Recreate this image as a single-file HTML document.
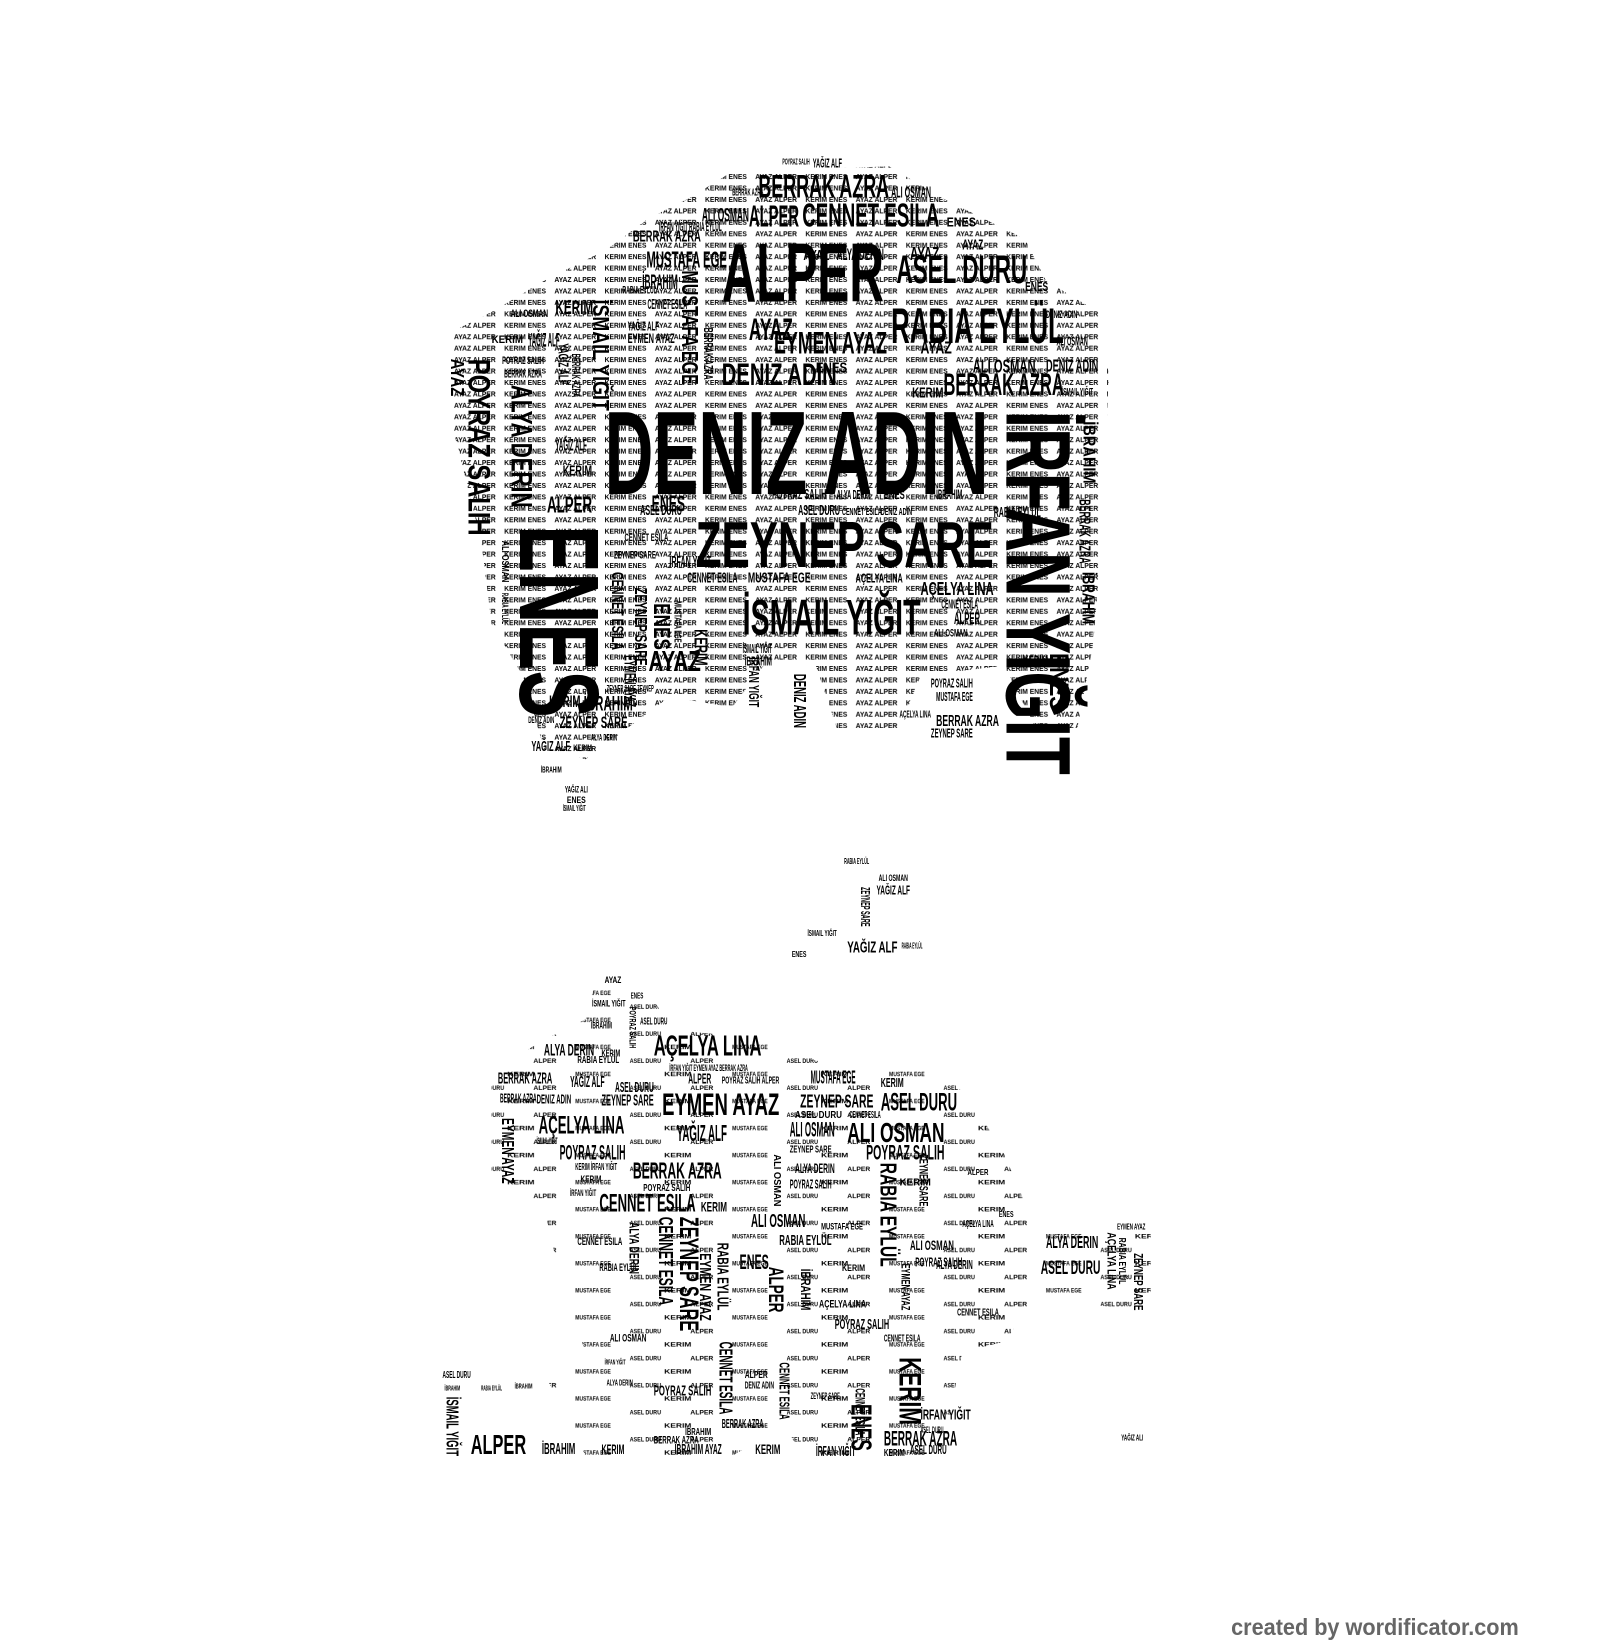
<!DOCTYPE html>
<html><head><meta charset="utf-8"><style>
html,body{margin:0;padding:0;background:#fff;}
svg{display:block}
text{font-family:"Liberation Sans Narrow","Liberation Sans",sans-serif;font-weight:bold;fill:#000;}
</style></head><body>
<svg width="1600" height="1640" viewBox="0 0 1600 1640" xmlns="http://www.w3.org/2000/svg">
<defs>
<pattern id="pd" width="96" height="11" patternUnits="userSpaceOnUse">
<text x="2" y="7" font-size="7" textLength="40" lengthAdjust="spacingAndGlyphs">KERIM ENES</text>
<text x="50" y="7" font-size="7" textLength="40" lengthAdjust="spacingAndGlyphs">AYAZ ALPER</text>
</pattern>
<pattern id="ps" width="150" height="26" patternUnits="userSpaceOnUse">
<text x="2" y="8" font-size="6" textLength="30" lengthAdjust="spacingAndGlyphs">ASEL DURU</text>
<text x="60" y="8" font-size="6" textLength="22" lengthAdjust="spacingAndGlyphs">ALPER</text>
<text x="35" y="21" font-size="6" textLength="26" lengthAdjust="spacingAndGlyphs">KERIM</text>
<text x="100" y="21" font-size="6" textLength="34" lengthAdjust="spacingAndGlyphs">MUSTAFA EGE</text>
</pattern>
</defs>
<g transform="scale(1.046,1.04)">
<polygon fill="url(#pd)" points="700,165 850,160 900,190 980,230 1000,270 1050,300 1060,360 1055,480 1050,560 1045,620 1030,700 990,700 960,640 880,650 860,700 800,700 780,640 730,640 700,680 640,670 600,700 560,730 520,720 500,650 470,600 460,520 430,400 430,320 470,300 520,270 580,240 620,210 660,190"/>
<polygon fill="url(#ps)" points="570,940 620,950 640,990 740,1000 780,1020 900,1030 930,1060 960,1110 990,1180 1100,1180 1100,1260 990,1250 960,1290 920,1300 900,1400 770,1405 750,1370 700,1400 560,1400 520,1320 560,1300 540,1250 520,1160 470,1140 470,1030 520,1000 560,980"/>
<g>
<text x="578" y="475" font-size="114" textLength="367" lengthAdjust="spacingAndGlyphs">DENIZ ADIN</text>
<text x="665" y="545" font-size="62" textLength="285" lengthAdjust="spacingAndGlyphs">ZEYNEP SARE</text>
<text x="690" y="290" font-size="80" textLength="155" lengthAdjust="spacingAndGlyphs">ALPER</text>
<text transform="translate(497,505) rotate(90)" font-size="108" textLength="185" lengthAdjust="spacingAndGlyphs">ENES</text>
<text transform="translate(962,395) rotate(90)" font-size="88" textLength="350" lengthAdjust="spacingAndGlyphs">İRFAN YIĞIT</text>
<text x="710" y="610" font-size="48" textLength="170" lengthAdjust="spacingAndGlyphs">İSMAIL YIĞIT</text>
<text x="852" y="330" font-size="48" textLength="165" lengthAdjust="spacingAndGlyphs">RABIA EYLÜL</text>
<text x="725" y="190" font-size="31" textLength="125" lengthAdjust="spacingAndGlyphs">BERRAK AZRA</text>
<text x="767" y="218" font-size="32" textLength="131" lengthAdjust="spacingAndGlyphs">CENNET ESILA</text>
<text x="716" y="218" font-size="29" textLength="48" lengthAdjust="spacingAndGlyphs">ALPER</text>
<text x="671" y="213" font-size="19" textLength="45" lengthAdjust="spacingAndGlyphs">ALI OSMAN</text>
<text x="852" y="190" font-size="15" textLength="38" lengthAdjust="spacingAndGlyphs">ALI OSMAN</text>
<text x="857" y="272" font-size="38" textLength="125" lengthAdjust="spacingAndGlyphs">ASEL DURU</text>
<text x="740" y="340" font-size="30" textLength="108" lengthAdjust="spacingAndGlyphs">EYMEN AYAZ</text>
<text x="716" y="327" font-size="30" textLength="42" lengthAdjust="spacingAndGlyphs">AYAZ</text>
<text x="690" y="370" font-size="30" textLength="110" lengthAdjust="spacingAndGlyphs">DENIZ ADIN</text>
<text x="902" y="380" font-size="30" textLength="115" lengthAdjust="spacingAndGlyphs">BERRAK AZRA</text>
<text x="930" y="358" font-size="18" textLength="60" lengthAdjust="spacingAndGlyphs">ALI OSMAN</text>
<text x="1000" y="357" font-size="17" textLength="50" lengthAdjust="spacingAndGlyphs">DENIZ ADIN</text>
<text x="880" y="340" font-size="17" textLength="30" lengthAdjust="spacingAndGlyphs">AYAZ</text>
<text x="872" y="382" font-size="14" textLength="30" lengthAdjust="spacingAndGlyphs">KERIM</text>
<text x="780" y="358" font-size="14" textLength="30" lengthAdjust="spacingAndGlyphs">ENES</text>
<text x="800" y="250" font-size="16" textLength="45" lengthAdjust="spacingAndGlyphs">ALYA DERIN</text>
<text x="870" y="250" font-size="18" textLength="28" lengthAdjust="spacingAndGlyphs">AYAZ</text>
<text x="768" y="250" font-size="14" textLength="25" lengthAdjust="spacingAndGlyphs">AYAZ</text>
<text transform="translate(652,260) rotate(90)" font-size="22" textLength="110" lengthAdjust="spacingAndGlyphs">MUSTAFA EGE</text>
<text transform="translate(567,288) rotate(90)" font-size="22" textLength="107" lengthAdjust="spacingAndGlyphs">İSMAIL YIĞIT</text>
<text transform="translate(448,345) rotate(90)" font-size="30" textLength="170" lengthAdjust="spacingAndGlyphs">POYRAZ SALIH</text>
<text transform="translate(489,370) rotate(90)" font-size="28" textLength="118" lengthAdjust="spacingAndGlyphs">ALYA DERIN</text>
<text transform="translate(431,345) rotate(90)" font-size="18" textLength="36" lengthAdjust="spacingAndGlyphs">AYAZ</text>
<text transform="translate(1036,405) rotate(90)" font-size="17" textLength="60" lengthAdjust="spacingAndGlyphs">İBRAHIM</text>
<text transform="translate(1032,480) rotate(90)" font-size="15" textLength="62" lengthAdjust="spacingAndGlyphs">BERRAK AZRA</text>
<text transform="translate(1035,550) rotate(90)" font-size="17" textLength="50" lengthAdjust="spacingAndGlyphs">İBRAHIM</text>
<text transform="translate(1004,628) rotate(90)" font-size="26" textLength="55" lengthAdjust="spacingAndGlyphs">ENES</text>
<text x="978" y="640" font-size="14" textLength="24" lengthAdjust="spacingAndGlyphs">KERIM</text>
<text x="605" y="232" font-size="15" textLength="65" lengthAdjust="spacingAndGlyphs">BERRAK AZRA</text>
<text x="618" y="257" font-size="22" textLength="77" lengthAdjust="spacingAndGlyphs">MUSTAFA EGE</text>
<text x="614" y="278" font-size="20" textLength="34" lengthAdjust="spacingAndGlyphs">İBRAHIM</text>
<text x="531" y="302" font-size="19" textLength="36" lengthAdjust="spacingAndGlyphs">KERIM</text>
<text x="619" y="297" font-size="14" textLength="38" lengthAdjust="spacingAndGlyphs">CENNET ESILA</text>
<text x="505" y="333" font-size="19" textLength="30" lengthAdjust="spacingAndGlyphs">YAĞIZ ALF</text>
<text x="488" y="305" font-size="11" textLength="36" lengthAdjust="spacingAndGlyphs">ALI OSMAN</text>
<text x="600" y="330" font-size="13" textLength="45" lengthAdjust="spacingAndGlyphs">EYMEN AYAZ</text>
<text x="600" y="318" font-size="12" textLength="30" lengthAdjust="spacingAndGlyphs">YAĞIZ ALF</text>
<text transform="translate(534,330) rotate(90)" font-size="14" textLength="40" lengthAdjust="spacingAndGlyphs">YAĞIZ ALF</text>
<text transform="translate(547,340) rotate(90)" font-size="11" textLength="42" lengthAdjust="spacingAndGlyphs">BERRAK AZRA</text>
<text transform="translate(673,315) rotate(90)" font-size="12" textLength="50" lengthAdjust="spacingAndGlyphs">BERRAK AZRA</text>
<text x="523" y="493" font-size="22" textLength="43" lengthAdjust="spacingAndGlyphs">ALPER</text>
<text x="531" y="433" font-size="16" textLength="30" lengthAdjust="spacingAndGlyphs">YAĞIZ ALF</text>
<text x="538" y="457" font-size="14" textLength="28" lengthAdjust="spacingAndGlyphs">KERIM</text>
<text x="623" y="492" font-size="22" textLength="32" lengthAdjust="spacingAndGlyphs">ENES</text>
<text x="738" y="480" font-size="14" textLength="52" lengthAdjust="spacingAndGlyphs">POYRAZ SALIH</text>
<text x="800" y="480" font-size="12" textLength="32" lengthAdjust="spacingAndGlyphs">ALYA DERIN</text>
<text x="845" y="480" font-size="12" textLength="20" lengthAdjust="spacingAndGlyphs">ENES</text>
<text x="895" y="480" font-size="13" textLength="25" lengthAdjust="spacingAndGlyphs">İBRAHIM</text>
<text x="612" y="495" font-size="14" textLength="40" lengthAdjust="spacingAndGlyphs">ASEL DURU</text>
<text x="763" y="495" font-size="14" textLength="40" lengthAdjust="spacingAndGlyphs">ASEL DURU</text>
<text x="950" y="497" font-size="14" textLength="45" lengthAdjust="spacingAndGlyphs">RABIA EYLÜL</text>
<text x="805" y="495" font-size="10" textLength="38" lengthAdjust="spacingAndGlyphs">CENNET ESILA</text>
<text x="842" y="495" font-size="10" textLength="30" lengthAdjust="spacingAndGlyphs">DENIZ ADIN</text>
<text x="657" y="560" font-size="14" textLength="48" lengthAdjust="spacingAndGlyphs">CENNET ESILA</text>
<text x="715" y="560" font-size="14" textLength="60" lengthAdjust="spacingAndGlyphs">MUSTAFA EGE</text>
<text x="818" y="560" font-size="12" textLength="45" lengthAdjust="spacingAndGlyphs">AÇELYA LINA</text>
<text x="880" y="572" font-size="18" textLength="70" lengthAdjust="spacingAndGlyphs">AÇELYA LINA</text>
<text x="640" y="545" font-size="15" textLength="40" lengthAdjust="spacingAndGlyphs">İRFAN YIĞIT</text>
<text x="597" y="520" font-size="11" textLength="42" lengthAdjust="spacingAndGlyphs">CENNET ESILA</text>
<text x="587" y="537" font-size="11" textLength="40" lengthAdjust="spacingAndGlyphs">ZEYNEP SARE</text>
<text x="912" y="600" font-size="16" textLength="25" lengthAdjust="spacingAndGlyphs">ALPER</text>
<text x="893" y="612" font-size="11" textLength="32" lengthAdjust="spacingAndGlyphs">ALI OSMAN</text>
<text x="900" y="585" font-size="12" textLength="35" lengthAdjust="spacingAndGlyphs">CENNET ESILA</text>
<text x="620" y="645" font-size="28" textLength="50" lengthAdjust="spacingAndGlyphs">AYAZ</text>
<text transform="translate(625,580) rotate(90)" font-size="22" textLength="45" lengthAdjust="spacingAndGlyphs">ENES</text>
<text transform="translate(607,565) rotate(90)" font-size="17" textLength="75" lengthAdjust="spacingAndGlyphs">ZEYNEP SARE</text>
<text transform="translate(585,550) rotate(90)" font-size="16" textLength="75" lengthAdjust="spacingAndGlyphs">CENNET ESILA</text>
<text transform="translate(597,630) rotate(90)" font-size="16" textLength="50" lengthAdjust="spacingAndGlyphs">EYMEN AYAZ</text>
<text transform="translate(664,605) rotate(90)" font-size="18" textLength="35" lengthAdjust="spacingAndGlyphs">KERIM</text>
<text transform="translate(645,578) rotate(90)" font-size="10" textLength="40" lengthAdjust="spacingAndGlyphs">MUSTAFA EGE</text>
<text transform="translate(716,632) rotate(90)" font-size="14" textLength="48" lengthAdjust="spacingAndGlyphs">İRFAN YIĞIT</text>
<text transform="translate(759,648) rotate(90)" font-size="17" textLength="52" lengthAdjust="spacingAndGlyphs">DENIZ ADIN</text>
<text x="710" y="628" font-size="12" textLength="28" lengthAdjust="spacingAndGlyphs">İSMAIL YIĞIT</text>
<text x="712" y="640" font-size="12" textLength="26" lengthAdjust="spacingAndGlyphs">İBRAHIM</text>
<text x="558" y="683" font-size="20" textLength="47" lengthAdjust="spacingAndGlyphs">İBRAHIM</text>
<text x="525" y="680" font-size="16" textLength="30" lengthAdjust="spacingAndGlyphs">KERIM</text>
<text x="535" y="700" font-size="16" textLength="65" lengthAdjust="spacingAndGlyphs">ZEYNEP SARE</text>
<text x="505" y="695" font-size="9" textLength="25" lengthAdjust="spacingAndGlyphs">DENIZ ADIN</text>
<text x="508" y="722" font-size="14" textLength="37" lengthAdjust="spacingAndGlyphs">YAĞIZ ALF</text>
<text x="548" y="722" font-size="9" textLength="18" lengthAdjust="spacingAndGlyphs">KERIM</text>
<text x="565" y="712" font-size="9" textLength="25" lengthAdjust="spacingAndGlyphs">ALYA DERIN</text>
<text x="580" y="665" font-size="9" textLength="45" lengthAdjust="spacingAndGlyphs">ZEYNEP SARE ZEYNEP</text>
<text x="890" y="661" font-size="12" textLength="40" lengthAdjust="spacingAndGlyphs">POYRAZ SALIH</text>
<text x="895" y="674" font-size="12" textLength="35" lengthAdjust="spacingAndGlyphs">MUSTAFA EGE</text>
<text x="895" y="698" font-size="15" textLength="60" lengthAdjust="spacingAndGlyphs">BERRAK AZRA</text>
<text x="890" y="709" font-size="12" textLength="40" lengthAdjust="spacingAndGlyphs">ZEYNEP SARE</text>
<text x="860" y="690" font-size="10" textLength="30" lengthAdjust="spacingAndGlyphs">AÇELYA LINA</text>
<text x="748" y="158" font-size="8" textLength="26" lengthAdjust="spacingAndGlyphs">POYRAZ SALIH</text>
<text x="777" y="161" font-size="12" textLength="28" lengthAdjust="spacingAndGlyphs">YAĞIZ ALF</text>
<text x="630" y="222" font-size="12" textLength="60" lengthAdjust="spacingAndGlyphs">İRFAN YIĞIT RABIA EYLÜL</text>
<text x="595" y="282" font-size="11" textLength="33" lengthAdjust="spacingAndGlyphs">RABIA EYLÜL</text>
<text x="470" y="330" font-size="11" textLength="30" lengthAdjust="spacingAndGlyphs">KERIM</text>
<text x="480" y="350" font-size="11" textLength="40" lengthAdjust="spacingAndGlyphs">POYRAZ SALIH</text>
<text x="482" y="363" font-size="11" textLength="36" lengthAdjust="spacingAndGlyphs">BERRAK AZRA</text>
<text x="1010" y="332" font-size="12" textLength="30" lengthAdjust="spacingAndGlyphs">ALI OSMAN</text>
<text x="1000" y="306" font-size="11" textLength="30" lengthAdjust="spacingAndGlyphs">DENIZ ADIN</text>
<text x="980" y="280" font-size="12" textLength="22" lengthAdjust="spacingAndGlyphs">ENES</text>
<text x="1015" y="380" font-size="10" textLength="30" lengthAdjust="spacingAndGlyphs">İSMAIL YIĞIT</text>
<text x="905" y="218" font-size="12" textLength="28" lengthAdjust="spacingAndGlyphs">ENES</text>
<text x="920" y="240" font-size="14" textLength="20" lengthAdjust="spacingAndGlyphs">AYAZ</text>
<text x="700" y="188" font-size="10" textLength="30" lengthAdjust="spacingAndGlyphs">BERRAK AZRA</text>
<text transform="translate(480,520) rotate(90)" font-size="10" textLength="40" lengthAdjust="spacingAndGlyphs">ALI OSMAN</text>
<text transform="translate(480,570) rotate(90)" font-size="9" textLength="30" lengthAdjust="spacingAndGlyphs">RABIA EYLÜL</text>

<text x="517" y="743" font-size="8" textLength="20" lengthAdjust="spacingAndGlyphs">İBRAHIM</text>
<text x="540" y="762" font-size="9" textLength="22" lengthAdjust="spacingAndGlyphs">YAĞIZ ALI</text>
<text x="542" y="772" font-size="9" textLength="18" lengthAdjust="spacingAndGlyphs">ENES</text>
<text x="538" y="780" font-size="8" textLength="22" lengthAdjust="spacingAndGlyphs">İSMAIL YIĞIT</text>
<text x="807" y="831" font-size="8" textLength="24" lengthAdjust="spacingAndGlyphs">RABIA EYLÜL</text>
<text x="840" y="847" font-size="9" textLength="28" lengthAdjust="spacingAndGlyphs">ALI OSMAN</text>
<text x="838" y="860" font-size="12" textLength="32" lengthAdjust="spacingAndGlyphs">YAĞIZ ALF</text>
<text transform="translate(823,853) rotate(90)" font-size="12" textLength="38" lengthAdjust="spacingAndGlyphs">ZEYNEP SARE</text>
<text x="810" y="916" font-size="15" textLength="48" lengthAdjust="spacingAndGlyphs">YAĞIZ ALF</text>
<text x="772" y="900" font-size="8" textLength="28" lengthAdjust="spacingAndGlyphs">İSMAIL YIĞIT</text>
<text x="862" y="912" font-size="8" textLength="20" lengthAdjust="spacingAndGlyphs">RABIA EYLÜL</text>
<text x="757" y="920" font-size="8" textLength="14" lengthAdjust="spacingAndGlyphs">ENES</text>

<text x="578" y="945" font-size="9" textLength="16" lengthAdjust="spacingAndGlyphs">AYAZ</text>
<text x="603" y="960" font-size="8" textLength="12" lengthAdjust="spacingAndGlyphs">ENES</text>
<text x="566" y="968" font-size="9" textLength="32" lengthAdjust="spacingAndGlyphs">İSMAIL YIĞIT</text>
<text x="565" y="989" font-size="9" textLength="20" lengthAdjust="spacingAndGlyphs">İBRAHIM</text>
<text x="612" y="985" font-size="10" textLength="26" lengthAdjust="spacingAndGlyphs">ASEL DURU</text>
<text transform="translate(602,968) rotate(90)" font-size="9" textLength="40" lengthAdjust="spacingAndGlyphs">POYRAZ SALIH</text>
<text x="625" y="1015" font-size="28" textLength="103" lengthAdjust="spacingAndGlyphs">AÇELYA LINA</text>
<text x="520" y="1015" font-size="16" textLength="48" lengthAdjust="spacingAndGlyphs">ALYA DERIN</text>
<text x="575" y="1016" font-size="10" textLength="18" lengthAdjust="spacingAndGlyphs">KERIM</text>
<text x="552" y="1022" font-size="10" textLength="40" lengthAdjust="spacingAndGlyphs">RABIA EYLÜL</text>
<text x="476" y="1042" font-size="15" textLength="52" lengthAdjust="spacingAndGlyphs">BERRAK AZRA</text>
<text x="545" y="1045" font-size="15" textLength="33" lengthAdjust="spacingAndGlyphs">YAĞIZ ALF</text>
<text x="588" y="1050" font-size="14" textLength="37" lengthAdjust="spacingAndGlyphs">ASEL DURU</text>
<text x="640" y="1030" font-size="9" textLength="75" lengthAdjust="spacingAndGlyphs">İRFAN YIĞIT EYMEN AYAZ BERRAK AZRA</text>
<text x="658" y="1042" font-size="14" textLength="22" lengthAdjust="spacingAndGlyphs">ALPER</text>
<text x="690" y="1042" font-size="10" textLength="55" lengthAdjust="spacingAndGlyphs">POYRAZ SALIH ALPER</text>
<text x="775" y="1042" font-size="18" textLength="43" lengthAdjust="spacingAndGlyphs">MUSTAFA EGE</text>
<text x="633" y="1072" font-size="30" textLength="112" lengthAdjust="spacingAndGlyphs">EYMEN AYAZ</text>
<text x="765" y="1065" font-size="18" textLength="70" lengthAdjust="spacingAndGlyphs">ZEYNEP SARE</text>
<text x="842" y="1068" font-size="24" textLength="73" lengthAdjust="spacingAndGlyphs">ASEL DURU</text>
<text x="842" y="1045" font-size="12" textLength="22" lengthAdjust="spacingAndGlyphs">KERIM</text>
<text x="478" y="1060" font-size="12" textLength="35" lengthAdjust="spacingAndGlyphs">BERRAK AZRA</text>
<text x="513" y="1061" font-size="12" textLength="33" lengthAdjust="spacingAndGlyphs">DENIZ ADIN</text>
<text x="575" y="1063" font-size="15" textLength="50" lengthAdjust="spacingAndGlyphs">ZEYNEP SARE</text>
<text x="515" y="1090" font-size="24" textLength="82" lengthAdjust="spacingAndGlyphs">AÇELYA LINA</text>
<text transform="translate(480,1075) rotate(90)" font-size="17" textLength="63" lengthAdjust="spacingAndGlyphs">EYMEN AYAZ</text>
<text x="647" y="1097" font-size="22" textLength="48" lengthAdjust="spacingAndGlyphs">YAĞIZ ALF</text>
<text x="755" y="1093" font-size="20" textLength="43" lengthAdjust="spacingAndGlyphs">ALI OSMAN</text>
<text x="810" y="1098" font-size="27" textLength="93" lengthAdjust="spacingAndGlyphs">ALI OSMAN</text>
<text x="760" y="1075" font-size="10" textLength="45" lengthAdjust="spacingAndGlyphs">ASEL DURU</text>
<text x="812" y="1075" font-size="10" textLength="30" lengthAdjust="spacingAndGlyphs">CENNET ESILA</text>
<text x="535" y="1115" font-size="20" textLength="63" lengthAdjust="spacingAndGlyphs">POYRAZ SALIH</text>
<text x="513" y="1100" font-size="9" textLength="20" lengthAdjust="spacingAndGlyphs">İSMAIL YIĞIT</text>
<text x="828" y="1115" font-size="20" textLength="75" lengthAdjust="spacingAndGlyphs">POYRAZ SALIH</text>
<text x="755" y="1108" font-size="10" textLength="40" lengthAdjust="spacingAndGlyphs">ZEYNEP SARE</text>
<text x="605" y="1133" font-size="22" textLength="85" lengthAdjust="spacingAndGlyphs">BERRAK AZRA</text>
<text x="550" y="1125" font-size="10" textLength="40" lengthAdjust="spacingAndGlyphs">KERIM İRFAN YIĞIT</text>
<text x="555" y="1137" font-size="10" textLength="20" lengthAdjust="spacingAndGlyphs">KERIM</text>
<text x="573" y="1165" font-size="24" textLength="92" lengthAdjust="spacingAndGlyphs">CENNET ESILA</text>
<text x="670" y="1165" font-size="13" textLength="25" lengthAdjust="spacingAndGlyphs">KERIM</text>
<text x="615" y="1145" font-size="10" textLength="45" lengthAdjust="spacingAndGlyphs">POYRAZ SALIH</text>
<text transform="translate(740,1110) rotate(90)" font-size="10" textLength="50" lengthAdjust="spacingAndGlyphs">ALI OSMAN</text>
<text x="760" y="1128" font-size="13" textLength="38" lengthAdjust="spacingAndGlyphs">ALYA DERIN</text>
<text x="755" y="1143" font-size="12" textLength="40" lengthAdjust="spacingAndGlyphs">POYRAZ SALIH</text>
<text x="718" y="1180" font-size="18" textLength="52" lengthAdjust="spacingAndGlyphs">ALI OSMAN</text>
<text x="745" y="1197" font-size="14" textLength="50" lengthAdjust="spacingAndGlyphs">RABIA EYLÜL</text>
<text x="785" y="1182" font-size="9" textLength="40" lengthAdjust="spacingAndGlyphs">MUSTAFA EGE</text>
<text x="805" y="1222" font-size="9" textLength="22" lengthAdjust="spacingAndGlyphs">KERIM</text>
<text transform="translate(842,1118) rotate(90)" font-size="22" textLength="100" lengthAdjust="spacingAndGlyphs">RABIA EYLÜL</text>
<text transform="translate(879,1110) rotate(90)" font-size="11" textLength="50" lengthAdjust="spacingAndGlyphs">ZEYNEP SARE</text>
<text transform="translate(862,1215) rotate(90)" font-size="11" textLength="45" lengthAdjust="spacingAndGlyphs">EYMEN AYAZ</text>
<text x="870" y="1202" font-size="13" textLength="42" lengthAdjust="spacingAndGlyphs">ALI OSMAN</text>
<text x="875" y="1218" font-size="12" textLength="45" lengthAdjust="spacingAndGlyphs">POYRAZ SALIH</text>
<text x="860" y="1140" font-size="10" textLength="30" lengthAdjust="spacingAndGlyphs">KERIM</text>
<text x="1000" y="1200" font-size="17" textLength="50" lengthAdjust="spacingAndGlyphs">ALYA DERIN</text>
<text x="995" y="1225" font-size="19" textLength="57" lengthAdjust="spacingAndGlyphs">ASEL DURU</text>
<text x="1068" y="1182" font-size="8" textLength="27" lengthAdjust="spacingAndGlyphs">EYMEN AYAZ</text>
<text transform="translate(1059,1185) rotate(90)" font-size="11" textLength="55" lengthAdjust="spacingAndGlyphs">AÇELYA LINA</text>
<text transform="translate(1070,1190) rotate(90)" font-size="10" textLength="45" lengthAdjust="spacingAndGlyphs">RABIA EYLÜL</text>
<text transform="translate(1084,1205) rotate(90)" font-size="12" textLength="55" lengthAdjust="spacingAndGlyphs">ZEYNEP SARE</text>
<text x="955" y="1170" font-size="8" textLength="14" lengthAdjust="spacingAndGlyphs">ENES</text>
<text x="920" y="1180" font-size="10" textLength="30" lengthAdjust="spacingAndGlyphs">AÇELYA LINA</text>
<text x="925" y="1130" font-size="8" textLength="20" lengthAdjust="spacingAndGlyphs">ALPER</text>
<text transform="translate(650,1170) rotate(90)" font-size="26" textLength="110" lengthAdjust="spacingAndGlyphs">ZEYNEP SARE</text>
<text transform="translate(630,1170) rotate(90)" font-size="19" textLength="85" lengthAdjust="spacingAndGlyphs">CENNET ESILA</text>
<text transform="translate(686,1195) rotate(90)" font-size="15" textLength="65" lengthAdjust="spacingAndGlyphs">RABIA EYLÜL</text>
<text transform="translate(669,1205) rotate(90)" font-size="15" textLength="65" lengthAdjust="spacingAndGlyphs">EYMEN AYAZ</text>
<text x="707" y="1220" font-size="20" textLength="28" lengthAdjust="spacingAndGlyphs">ENES</text>
<text transform="translate(735,1218) rotate(90)" font-size="20" textLength="44" lengthAdjust="spacingAndGlyphs">ALPER</text>
<text transform="translate(766,1220) rotate(90)" font-size="13" textLength="40" lengthAdjust="spacingAndGlyphs">İBRAHIM</text>
<text x="552" y="1197" font-size="11" textLength="43" lengthAdjust="spacingAndGlyphs">CENNET ESILA</text>
<text transform="translate(602,1175) rotate(90)" font-size="13" textLength="50" lengthAdjust="spacingAndGlyphs">ALYA DERIN</text>
<text x="573" y="1222" font-size="11" textLength="37" lengthAdjust="spacingAndGlyphs">RABIA EYLÜL</text>
<text x="583" y="1290" font-size="11" textLength="35" lengthAdjust="spacingAndGlyphs">ALI OSMAN</text>
<text x="783" y="1257" font-size="11" textLength="45" lengthAdjust="spacingAndGlyphs">AÇELYA LINA</text>
<text x="798" y="1278" font-size="14" textLength="52" lengthAdjust="spacingAndGlyphs">POYRAZ SALIH</text>
<text x="845" y="1290" font-size="10" textLength="35" lengthAdjust="spacingAndGlyphs">CENNET ESILA</text>
<text x="895" y="1220" font-size="12" textLength="35" lengthAdjust="spacingAndGlyphs">ALYA DERIN</text>
<text x="915" y="1265" font-size="10" textLength="40" lengthAdjust="spacingAndGlyphs">CENNET ESILA</text>
<text x="625" y="1342" font-size="14" textLength="55" lengthAdjust="spacingAndGlyphs">POYRAZ SALIH</text>
<text transform="translate(688,1290) rotate(90)" font-size="18" textLength="70" lengthAdjust="spacingAndGlyphs">CENNET ESILA</text>
<text transform="translate(745,1310) rotate(90)" font-size="14" textLength="55" lengthAdjust="spacingAndGlyphs">CENNET ESILA</text>
<text transform="translate(818,1335) rotate(90)" font-size="13" textLength="45" lengthAdjust="spacingAndGlyphs">CENNET ESILA</text>
<text x="712" y="1325" font-size="10" textLength="22" lengthAdjust="spacingAndGlyphs">ALPER</text>
<text x="712" y="1335" font-size="10" textLength="28" lengthAdjust="spacingAndGlyphs">DENIZ ADIN</text>
<text x="775" y="1345" font-size="9" textLength="28" lengthAdjust="spacingAndGlyphs">ZEYNEP SARE</text>
<text transform="translate(860,1305) rotate(90)" font-size="30" textLength="65" lengthAdjust="spacingAndGlyphs">KERIM</text>
<text transform="translate(814,1350) rotate(90)" font-size="27" textLength="45" lengthAdjust="spacingAndGlyphs">ENES</text>
<text x="845" y="1390" font-size="20" textLength="70" lengthAdjust="spacingAndGlyphs">BERRAK AZRA</text>
<text x="880" y="1365" font-size="14" textLength="48" lengthAdjust="spacingAndGlyphs">İRFAN YIĞIT</text>
<text x="880" y="1378" font-size="9" textLength="22" lengthAdjust="spacingAndGlyphs">ASEL DURU</text>
<text x="780" y="1400" font-size="14" textLength="38" lengthAdjust="spacingAndGlyphs">İRFAN YIĞIT</text>
<text x="870" y="1398" font-size="12" textLength="35" lengthAdjust="spacingAndGlyphs">ASEL DURU</text>
<text x="845" y="1400" font-size="10" textLength="20" lengthAdjust="spacingAndGlyphs">KERIM</text>
<text transform="translate(427,1343) rotate(90)" font-size="17" textLength="57" lengthAdjust="spacingAndGlyphs">İSMAIL YIĞIT</text>
<text x="450" y="1398" font-size="27" textLength="53" lengthAdjust="spacingAndGlyphs">ALPER</text>
<text x="518" y="1398" font-size="15" textLength="32" lengthAdjust="spacingAndGlyphs">İBRAHIM</text>
<text x="575" y="1398" font-size="13" textLength="22" lengthAdjust="spacingAndGlyphs">KERIM</text>
<text x="645" y="1398" font-size="14" textLength="45" lengthAdjust="spacingAndGlyphs">İBRAHIM AYAZ</text>
<text x="722" y="1398" font-size="13" textLength="24" lengthAdjust="spacingAndGlyphs">KERIM</text>
<text x="625" y="1388" font-size="11" textLength="43" lengthAdjust="spacingAndGlyphs">BERRAK AZRA</text>
<text x="690" y="1373" font-size="12" textLength="40" lengthAdjust="spacingAndGlyphs">BERRAK AZRA</text>
<text x="655" y="1380" font-size="10" textLength="25" lengthAdjust="spacingAndGlyphs">İBRAHIM</text>
<text x="423" y="1325" font-size="10" textLength="27" lengthAdjust="spacingAndGlyphs">ASEL DURU</text>
<text x="425" y="1337" font-size="7" textLength="15" lengthAdjust="spacingAndGlyphs">İBRAHIM</text>
<text x="460" y="1337" font-size="7" textLength="20" lengthAdjust="spacingAndGlyphs">RABIA EYLÜL</text>
<text x="492" y="1335" font-size="7" textLength="17" lengthAdjust="spacingAndGlyphs">İBRAHIM</text>
<text x="580" y="1332" font-size="8" textLength="25" lengthAdjust="spacingAndGlyphs">ALYA DERIN</text>
<text x="578" y="1312" font-size="7" textLength="20" lengthAdjust="spacingAndGlyphs">İRFAN YIĞIT</text>
<text x="1072" y="1385" font-size="8" textLength="21" lengthAdjust="spacingAndGlyphs">YAĞIZ ALI</text>
<text x="545" y="1150" font-size="9" textLength="25" lengthAdjust="spacingAndGlyphs">İRFAN YIĞIT</text>
</g>
<text x="1177" y="1572" font-size="22" textLength="275" lengthAdjust="spacingAndGlyphs" style="font-family:'Liberation Sans',sans-serif;fill:#666">created by wordificator.com</text>
</g>
</svg>
</body></html>
